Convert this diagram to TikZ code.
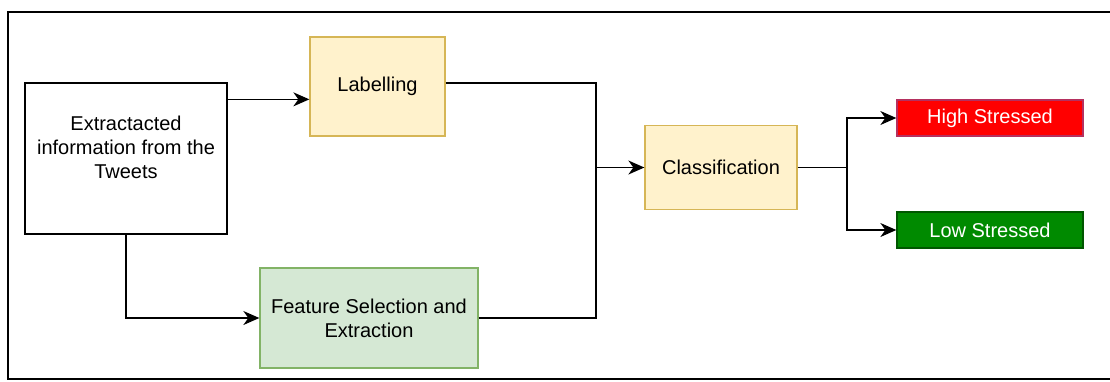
\documentclass[tikz,border=0pt]{standalone}
\usepackage{fontspec}
\setmainfont{Liberation Sans}
\usetikzlibrary{arrows.meta}

\definecolor{labfill}{HTML}{FFF2CC}
\definecolor{labdraw}{HTML}{D6B656}
\definecolor{featfill}{HTML}{D5E8D4}
\definecolor{featdraw}{HTML}{82B366}
\definecolor{highfill}{HTML}{FF0000}
\definecolor{highdraw}{HTML}{B5305F}
\definecolor{lowfill}{HTML}{008A00}
\definecolor{lowdraw}{HTML}{005700}

\begin{document}
\begin{tikzpicture}[x=0.5pt, y=-0.5pt, line width=0.65pt,
    box/.style={draw, rectangle, inner sep=0pt, align=center},
    flow/.style={-{Stealth[length=8pt, width=7pt, inset=2.5pt]}},
    outcome/.style={box, minimum width=93pt, minimum height=18pt, text=white}]
    \useasboundingbox (0,0) rectangle (1110,381);

    % Frame
    \draw (1112,12) -- (8,12) -- (8,379) -- (1112,379);

    % Input
    \node[box, draw=black, minimum width=101pt, minimum height=75.5pt] (src) at (126,158.5) {};
    \node[align=center] (srctext) at (126,147) {Extractacted\\information from the\\Tweets};

    % Processing steps
    \node[box, fill=labfill, draw=labdraw, minimum width=67.5pt, minimum height=49.5pt] (lab) at (377.5,86.5) {Labelling};
    \node[box, fill=featfill, draw=featdraw, minimum width=109pt, minimum height=50pt] (feat) at (369,318) {Feature Selection and\\Extraction};
    \node[box, fill=labfill, draw=labdraw, minimum width=76pt, minimum height=42pt] (cls) at (721,167.5) {Classification};

    % Outcomes
    \node[outcome, fill=highfill, draw=highdraw] (high) at (990,118) {High Stressed};
    \node[outcome, fill=lowfill, draw=lowdraw] (low) at (990,230) {Low Stressed};

    % Connectors
    \coordinate (join) at (596,167.5);
    \coordinate (split) at (847,167.5);
    \draw[flow] ([yshift=-8.5pt]src.north east) -- ([yshift=-8.5pt]src.north east -| lab.west);
    \draw[flow] (src.south) |- (feat.west);
    \draw ([yshift=1.75pt]lab.east) -| (join);
    \draw (feat.east) -| (join);
    \draw[flow] (join) -- (cls.west);
    \draw (cls.east) -- (split);
    \draw[flow] (split) |- (high.west);
    \draw[flow] (split) |- (low.west);
\end{tikzpicture}
\end{document}
